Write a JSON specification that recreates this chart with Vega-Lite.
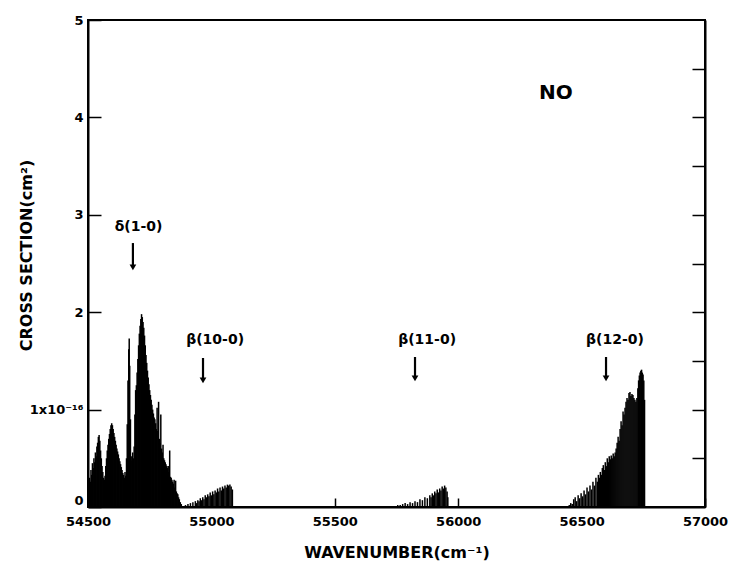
{
  "$schema": "https://vega.github.io/schema/vega-lite/v6.json",
  "width": 617,
  "height": 487,
  "autosize": {"type": "none"},
  "padding": {"left": 88, "top": 20, "right": 24, "bottom": 62},
  "background": "white",
  "config": {"view": {"stroke": "black", "strokeWidth": 2}, "font": "DejaVu Sans"},
  "datasets": {
    "lines": [
      {"wn":54503,"cs":0.18},{"wn":54506,"cs":0.30},{"wn":54509,"cs":0.26},{"wn":54512,"cs":0.38},{"wn":54515,"cs":0.33},
      {"wn":54518,"cs":0.45},{"wn":54521,"cs":0.40},{"wn":54524,"cs":0.50},{"wn":54527,"cs":0.46},{"wn":54530,"cs":0.56},
      {"wn":54533,"cs":0.52},{"wn":54536,"cs":0.62},{"wn":54539,"cs":0.66},{"wn":54542,"cs":0.72},{"wn":54545,"cs":0.74},
      {"wn":54548,"cs":0.68},{"wn":54551,"cs":0.58},{"wn":54554,"cs":0.50},{"wn":54557,"cs":0.42},{"wn":54560,"cs":0.36},
      {"wn":54563,"cs":0.30},{"wn":54566,"cs":0.28},{"wn":54569,"cs":0.32},{"wn":54572,"cs":0.42},{"wn":54575,"cs":0.50},
      {"wn":54578,"cs":0.58},{"wn":54581,"cs":0.64},{"wn":54584,"cs":0.70},{"wn":54587,"cs":0.75},{"wn":54590,"cs":0.80},
      {"wn":54593,"cs":0.84},{"wn":54596,"cs":0.86},{"wn":54599,"cs":0.84},{"wn":54602,"cs":0.80},{"wn":54605,"cs":0.76},
      {"wn":54608,"cs":0.72},{"wn":54611,"cs":0.68},{"wn":54614,"cs":0.64},{"wn":54617,"cs":0.60},{"wn":54620,"cs":0.57},
      {"wn":54623,"cs":0.54},{"wn":54626,"cs":0.50},{"wn":54629,"cs":0.47},{"wn":54632,"cs":0.44},{"wn":54635,"cs":0.41},
      {"wn":54638,"cs":0.38},{"wn":54641,"cs":0.35},{"wn":54644,"cs":0.33},{"wn":54647,"cs":0.30},{"wn":54650,"cs":0.36},
      {"wn":54653,"cs":0.32},{"wn":54656,"cs":0.50},{"wn":54659,"cs":0.85},{"wn":54662,"cs":1.30},{"wn":54665,"cs":1.62},
      {"wn":54667,"cs":1.73},{"wn":54669,"cs":1.45},{"wn":54672,"cs":0.90},{"wn":54675,"cs":0.52},{"wn":54678,"cs":0.48},
      {"wn":54681,"cs":0.56},{"wn":54684,"cs":0.50},{"wn":54687,"cs":0.62},{"wn":54690,"cs":0.95},{"wn":54693,"cs":1.20},
      {"wn":54696,"cs":1.25},{"wn":54699,"cs":1.38},{"wn":54702,"cs":1.52},{"wn":54705,"cs":1.66},{"wn":54708,"cs":1.78},
      {"wn":54711,"cs":1.86},{"wn":54714,"cs":1.93},{"wn":54717,"cs":1.98},{"wn":54720,"cs":1.95},{"wn":54723,"cs":1.90},
      {"wn":54726,"cs":1.84},{"wn":54729,"cs":1.76},{"wn":54732,"cs":1.66},{"wn":54735,"cs":1.56},{"wn":54738,"cs":1.48},
      {"wn":54741,"cs":1.40},{"wn":54744,"cs":1.33},{"wn":54747,"cs":1.26},{"wn":54750,"cs":1.20},{"wn":54753,"cs":1.15},
      {"wn":54756,"cs":1.10},{"wn":54759,"cs":1.05},{"wn":54762,"cs":1.00},{"wn":54765,"cs":0.96},{"wn":54768,"cs":0.92},
      {"wn":54771,"cs":0.90},{"wn":54774,"cs":0.86},{"wn":54777,"cs":0.80},{"wn":54780,"cs":1.02},{"wn":54783,"cs":0.78},
      {"wn":54786,"cs":1.08},{"wn":54789,"cs":0.70},{"wn":54792,"cs":0.66},{"wn":54795,"cs":0.95},{"wn":54798,"cs":0.60},
      {"wn":54801,"cs":0.56},{"wn":54804,"cs":0.64},{"wn":54807,"cs":0.50},{"wn":54810,"cs":0.48},{"wn":54813,"cs":0.46},
      {"wn":54816,"cs":0.44},{"wn":54819,"cs":0.42},{"wn":54822,"cs":0.40},{"wn":54825,"cs":0.42},{"wn":54828,"cs":0.36},
      {"wn":54831,"cs":0.58},{"wn":54834,"cs":0.31},{"wn":54837,"cs":0.30},{"wn":54840,"cs":0.28},{"wn":54843,"cs":0.26},
      {"wn":54846,"cs":0.24},{"wn":54849,"cs":0.28},{"wn":54852,"cs":0.20},{"wn":54855,"cs":0.27},{"wn":54858,"cs":0.16},
      {"wn":54861,"cs":0.14},{"wn":54864,"cs":0.13},{"wn":54867,"cs":0.10},{"wn":54870,"cs":0.08},{"wn":54874,"cs":0.05},
      {"wn":54878,"cs":0.03},
      {"wn":54885,"cs":0.01},{"wn":54895,"cs":0.02},{"wn":54905,"cs":0.03},{"wn":54915,"cs":0.04},{"wn":54925,"cs":0.05},
      {"wn":54935,"cs":0.06},{"wn":54940,"cs":0.04},{"wn":54945,"cs":0.07},{"wn":54950,"cs":0.06},{"wn":54955,"cs":0.09},
      {"wn":54960,"cs":0.07},{"wn":54965,"cs":0.10},{"wn":54970,"cs":0.08},{"wn":54975,"cs":0.12},{"wn":54980,"cs":0.10},
      {"wn":54985,"cs":0.13},{"wn":54990,"cs":0.11},{"wn":54995,"cs":0.15},{"wn":55000,"cs":0.12},{"wn":55005,"cs":0.16},
      {"wn":55010,"cs":0.13},{"wn":55015,"cs":0.17},{"wn":55020,"cs":0.15},{"wn":55025,"cs":0.19},{"wn":55030,"cs":0.16},
      {"wn":55035,"cs":0.20},{"wn":55040,"cs":0.17},{"wn":55045,"cs":0.21},{"wn":55050,"cs":0.19},{"wn":55055,"cs":0.22},
      {"wn":55060,"cs":0.20},{"wn":55065,"cs":0.23},{"wn":55070,"cs":0.22},{"wn":55075,"cs":0.23},{"wn":55080,"cs":0.21},
      {"wn":55085,"cs":0.18},
      {"wn":55745,"cs":0.01},{"wn":55755,"cs":0.02},{"wn":55765,"cs":0.02},{"wn":55775,"cs":0.03},{"wn":55785,"cs":0.04},
      {"wn":55795,"cs":0.03},{"wn":55805,"cs":0.05},{"wn":55815,"cs":0.04},{"wn":55825,"cs":0.06},{"wn":55835,"cs":0.05},
      {"wn":55845,"cs":0.08},{"wn":55855,"cs":0.07},{"wn":55865,"cs":0.10},{"wn":55875,"cs":0.09},{"wn":55885,"cs":0.12},
      {"wn":55890,"cs":0.10},{"wn":55895,"cs":0.14},{"wn":55900,"cs":0.12},{"wn":55905,"cs":0.16},{"wn":55910,"cs":0.14},
      {"wn":55915,"cs":0.18},{"wn":55920,"cs":0.15},{"wn":55925,"cs":0.19},{"wn":55930,"cs":0.17},{"wn":55935,"cs":0.21},
      {"wn":55940,"cs":0.19},{"wn":55945,"cs":0.22},{"wn":55950,"cs":0.20},{"wn":55955,"cs":0.16},{"wn":55958,"cs":0.10},
      {"wn":56450,"cs":0.02},{"wn":56456,"cs":0.04},{"wn":56462,"cs":0.03},{"wn":56468,"cs":0.08},{"wn":56474,"cs":0.10},
      {"wn":56480,"cs":0.06},{"wn":56486,"cs":0.12},{"wn":56492,"cs":0.09},{"wn":56498,"cs":0.14},{"wn":56504,"cs":0.11},
      {"wn":56510,"cs":0.17},{"wn":56516,"cs":0.13},{"wn":56522,"cs":0.20},{"wn":56528,"cs":0.16},{"wn":56534,"cs":0.22},
      {"wn":56540,"cs":0.18},{"wn":56546,"cs":0.26},{"wn":56552,"cs":0.22},{"wn":56558,"cs":0.30},{"wn":56564,"cs":0.26},
      {"wn":56568,"cs":0.33},{"wn":56572,"cs":0.30},{"wn":56576,"cs":0.36},{"wn":56580,"cs":0.33},{"wn":56584,"cs":0.40},
      {"wn":56588,"cs":0.43},{"wn":56592,"cs":0.38},{"wn":56596,"cs":0.46},{"wn":56600,"cs":0.42},{"wn":56604,"cs":0.50},
      {"wn":56608,"cs":0.46},{"wn":56612,"cs":0.52},{"wn":56616,"cs":0.49},{"wn":56620,"cs":0.53},{"wn":56624,"cs":0.50},
      {"wn":56628,"cs":0.55},{"wn":56632,"cs":0.52},{"wn":56636,"cs":0.56},{"wn":56640,"cs":0.60},{"wn":56644,"cs":0.66},
      {"wn":56648,"cs":0.72},{"wn":56652,"cs":0.68},{"wn":56656,"cs":0.80},{"wn":56660,"cs":0.88},{"wn":56664,"cs":0.84},
      {"wn":56668,"cs":0.98},{"wn":56672,"cs":0.95},{"wn":56676,"cs":1.02},{"wn":56680,"cs":1.08},{"wn":56684,"cs":1.12},
      {"wn":56688,"cs":1.10},{"wn":56692,"cs":1.17},{"wn":56696,"cs":1.18},{"wn":56700,"cs":1.14},{"wn":56704,"cs":1.16},
      {"wn":56708,"cs":1.15},{"wn":56712,"cs":1.12},{"wn":56716,"cs":1.10},{"wn":56720,"cs":1.08},{"wn":56724,"cs":1.12},
      {"wn":56728,"cs":1.22},{"wn":56731,"cs":1.30},{"wn":56734,"cs":1.35},{"wn":56737,"cs":1.38},{"wn":56740,"cs":1.40},
      {"wn":56743,"cs":1.41},{"wn":56746,"cs":1.38},{"wn":56749,"cs":1.36},{"wn":56752,"cs":1.30},{"wn":56755,"cs":1.10}
    ],
    "tags": [
      {"wn":54705,"cs":2.87,"t":"δ(1-0)"},
      {"wn":55015,"cs":1.71,"t":"β(10-0)"},
      {"wn":55874,"cs":1.71,"t":"β(11-0)"},
      {"wn":56635,"cs":1.71,"t":"β(12-0)"}
    ],
    "arrows": [
      {"wn":54682,"top":2.71,"bot":2.46},
      {"wn":54966,"top":1.53,"bot":1.30},
      {"wn":55825,"top":1.54,"bot":1.32},
      {"wn":56599,"top":1.54,"bot":1.32}
    ],
    "mol": [{"wn":56396,"cs":4.25,"t":"NO"}]
  },
  "layer": [
    {
      "data": {"name": "lines"},
      "mark": {"type": "rule", "color": "black", "strokeWidth": 1.5},
      "encoding": {
        "x": {
          "field": "wn", "type": "quantitative",
          "scale": {"domain": [54500, 57000], "nice": false, "zero": false},
          "axis": {
            "orient": "bottom",
            "values": [54500, 55000, 55500, 56000, 56500, 57000],
            "format": "d",
            "title": "WAVENUMBER(cm⁻¹)",
            "titleFontSize": 16, "titleFontWeight": "bold", "titleColor": "black", "titlePadding": 16,
            "labelFontSize": 13, "labelFontWeight": "bold", "labelColor": "black", "labelPadding": 17,
            "labelFlush": false,
            "ticks": true, "tickSize": -9, "tickColor": "black", "tickWidth": 1.5,
            "domainColor": "black", "domainWidth": 2, "grid": false
          }
        },
        "y": {
          "field": "cs", "type": "quantitative",
          "scale": {"domain": [0, 5], "nice": false},
          "axis": {
            "orient": "left",
            "values": [0, 0.5, 1, 1.5, 2, 2.5, 3, 3.5, 4, 4.5, 5],
            "format": "d",
            "labelExpr": "datum.value === 1 ? '1x10⁻¹⁶' : (datum.value % 1 === 0 ? datum.label : '')",
            "labelBaseline": {"condition": {"test": "datum.value === 0", "value": "bottom"}, "value": "middle"},
            "title": "CROSS SECTION(cm²)",
            "titleFontSize": 16, "titleFontWeight": "bold", "titleColor": "black",
            "titleX": -62, "titleY": 235, "titleAngle": -90, "titleAlign": "center", "titleBaseline": "middle",
            "labelFontSize": 13, "labelFontWeight": "bold", "labelColor": "black", "labelPadding": 18,
            "labelFlush": false,
            "ticks": true, "tickSize": -13, "tickColor": "black", "tickWidth": 1.5,
            "encode": {"ticks": {"update": {"x2": {"signal": "datum.value % 1 === 0 ? 13 : 8"}}}},
            "domainColor": "black", "domainWidth": 2, "grid": false
          }
        },
        "y2": {"datum": 0}
      }
    },
    {
      "data": {"name": "arrows"},
      "mark": {"type": "rule", "color": "black", "strokeWidth": 2.2},
      "encoding": {
        "x": {"field": "wn", "type": "quantitative"},
        "y": {
          "field": "top", "type": "quantitative",
          "axis": {
            "orient": "right",
            "values": [0.5, 1, 1.5, 2, 2.5, 3, 3.5, 4, 4.5],
            "labels": false, "title": null,
            "ticks": true, "tickSize": -13, "tickColor": "black", "tickWidth": 1.5,
            "encode": {"ticks": {"update": {"x2": {"signal": "datum.value % 1 === 0 ? -13 : -8"}}}},
            "domainColor": "black", "domainWidth": 2, "grid": false
          }
        },
        "y2": {"field": "bot"}
      }
    },
    {
      "data": {"name": "arrows"},
      "mark": {"type": "point", "shape": "triangle-down", "filled": true, "color": "black", "size": 45, "opacity": 1},
      "encoding": {
        "x": {"field": "wn", "type": "quantitative"},
        "y": {"field": "bot", "type": "quantitative", "axis": null}
      }
    },
    {
      "data": {"name": "tags"},
      "mark": {"type": "text", "color": "black", "fontSize": 14, "fontWeight": "bold", "font": "DejaVu Sans", "baseline": "middle", "align": "center"},
      "encoding": {
        "x": {"field": "wn", "type": "quantitative"},
        "y": {"field": "cs", "type": "quantitative", "axis": null},
        "text": {"field": "t"}
      }
    },
    {
      "data": {"name": "mol"},
      "mark": {"type": "text", "color": "black", "fontSize": 20, "fontWeight": "bold", "font": "DejaVu Sans", "baseline": "middle", "align": "center"},
      "encoding": {
        "x": {"field": "wn", "type": "quantitative"},
        "y": {"field": "cs", "type": "quantitative", "axis": null},
        "text": {"field": "t"}
      }
    }
  ],
  "resolve": {"axis": {"y": "independent"}}
}
